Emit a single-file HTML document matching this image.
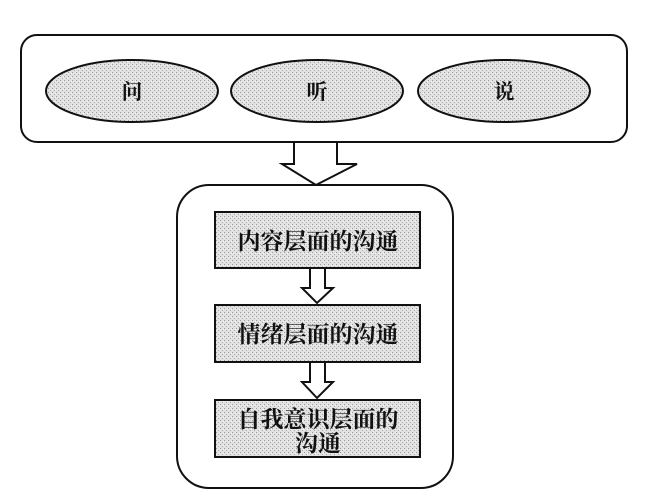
<!DOCTYPE html>
<html><head><meta charset="utf-8"><style>
html,body{margin:0;padding:0;background:#fff;width:645px;height:500px;overflow:hidden}
svg text{font-family:"Liberation Serif","Noto Serif CJK SC",serif;font-weight:bold;fill:#111}
</style></head><body>
<svg width="645" height="500" viewBox="0 0 645 500">
<defs>
<pattern id="dots" width="4" height="4" patternUnits="userSpaceOnUse">
<rect width="4" height="4" fill="#e2e2e2"/>
<rect x="0" y="0" width="1" height="1" fill="#9a9a9a"/>
<rect x="2" y="2" width="1" height="1" fill="#aaa"/>
<rect x="3" y="1" width="1" height="1" fill="#f6f6f6"/>
</pattern>
</defs>
<rect x="21" y="35" width="606" height="107" rx="16" fill="#fff" stroke="#111" stroke-width="2"/>
<ellipse cx="132" cy="91" rx="86" ry="31" fill="url(#dots)" stroke="#111" stroke-width="2"/>
<ellipse cx="317" cy="91" rx="86" ry="31" fill="url(#dots)" stroke="#111" stroke-width="2"/>
<ellipse cx="504" cy="91" rx="86" ry="31" fill="url(#dots)" stroke="#111" stroke-width="2"/>
<text x="132" y="99" font-size="21" text-anchor="middle">问</text>
<text x="317" y="99" font-size="21" text-anchor="middle">听</text>
<text x="504" y="99" font-size="21" text-anchor="middle">说</text>
<polygon points="294,142 337,142 337,164 357,164 316,185 282,164 294,164" fill="#fff" stroke="#111" stroke-width="2"/>
<rect x="177" y="185" width="276" height="303" rx="32" fill="#fff" stroke="#111" stroke-width="2"/>
<rect x="215" y="212" width="205" height="56" fill="url(#dots)" stroke="#111" stroke-width="2"/>
<rect x="215" y="305" width="205" height="57" fill="url(#dots)" stroke="#111" stroke-width="2"/>
<rect x="215" y="400" width="205" height="57" fill="url(#dots)" stroke="#111" stroke-width="2"/>
<polygon points="310,268 325,268 325,288 333,288 317,303 302,288 310,288" fill="#fff" stroke="#111" stroke-width="2"/>
<polygon points="310,362 325,362 325,382 333,382 317,398 302,382 310,382" fill="#fff" stroke="#111" stroke-width="2"/>
<text x="318" y="249" font-size="23" text-anchor="middle">内容层面的沟通</text>
<text x="318" y="342" font-size="23" text-anchor="middle">情绪层面的沟通</text>
<text x="318" y="427" font-size="23" text-anchor="middle">自我意识层面的</text>
<text x="318" y="451" font-size="23" text-anchor="middle">沟通</text>
</svg>
</body></html>
